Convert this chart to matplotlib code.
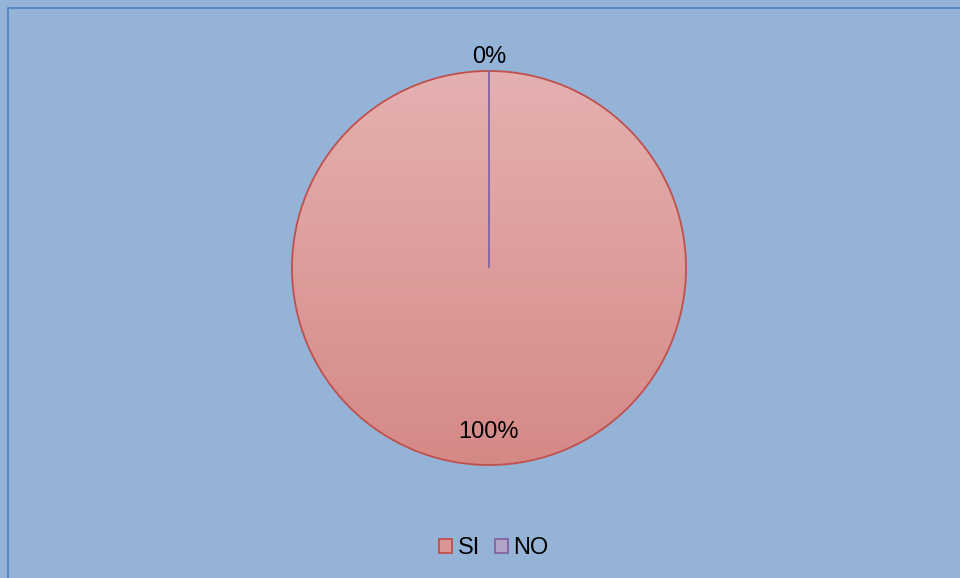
import numpy as np
import matplotlib
matplotlib.use("Agg")
from matplotlib import pyplot as plt
from matplotlib.patches import Rectangle
from matplotlib.colors import LinearSegmentedColormap

labels = ["SI", "NO"]
values = [100, 0]
colors = ["#D99694", "#B3A2C7"]
edges = ["#C0504D", "#8064A2"]

plt.rcParams['font.family'] = ['Liberation Sans', 'DejaVu Sans']

fig = plt.figure(figsize=(9.6, 5.78), dpi=100)
fig.patch.set_facecolor("#95B3D7")
fig.patches.append(Rectangle((8 / 960, -0.01), 1.0, 1 - 8 / 578 + 0.01,
                             transform=fig.transFigure, fill=False,
                             edgecolor="#4F81BD", linewidth=1.2))

r_px = 197
cx, cy = 489, 268
ax = fig.add_axes([(cx - r_px) / 960, 1 - (cy + r_px) / 578, 2 * r_px / 960, 2 * r_px / 578])
ax.set_facecolor("none")

wedges, _ = ax.pie(values, colors=colors, startangle=90, counterclock=False,
                   wedgeprops=dict(linewidth=1.3))
for w, ec in zip(wedges, edges):
    w.set_edgecolor(ec)
    w.set_zorder(3)
    w.set_facecolor("none")

# vertical gradient fill for the SI slice
cmap = LinearSegmentedColormap.from_list("g", ["#D58987", "#E4B1B0"])
grad = np.linspace(0, 1, 256).reshape(-1, 1)
im = ax.imshow(grad, cmap=cmap, origin="lower", extent=(-1, 1, -1, 1),
               aspect="auto", zorder=2)
im.set_clip_path(wedges[0])

total = sum(values)
dists = [0.83, 1.07]
for w, v, d in zip(wedges, values, dists):
    ang = np.deg2rad((w.theta1 + w.theta2) / 2)
    ax.text(d * np.cos(ang), d * np.sin(ang), "{:.0f}%".format(100 * v / total),
            ha="center", va="center", fontsize=17, zorder=5)

ax.set_xlim(-1, 1)
ax.set_ylim(-1, 1)
ax.set_aspect("equal")
ax.axis("off")

handles = [Rectangle((0, 0), 1, 1, facecolor=c, edgecolor=e, linewidth=1.3)
           for c, e in zip(colors, edges)]
fig.legend(handles, labels, loc="center", bbox_to_anchor=(494 / 960, 1 - 548 / 578),
           ncol=2, frameon=False, fontsize=17, handlelength=0.55, handleheight=0.55,
           handletextpad=0.25, columnspacing=0.6)

fig.savefig("out.png", dpi=100, facecolor=fig.get_facecolor())
